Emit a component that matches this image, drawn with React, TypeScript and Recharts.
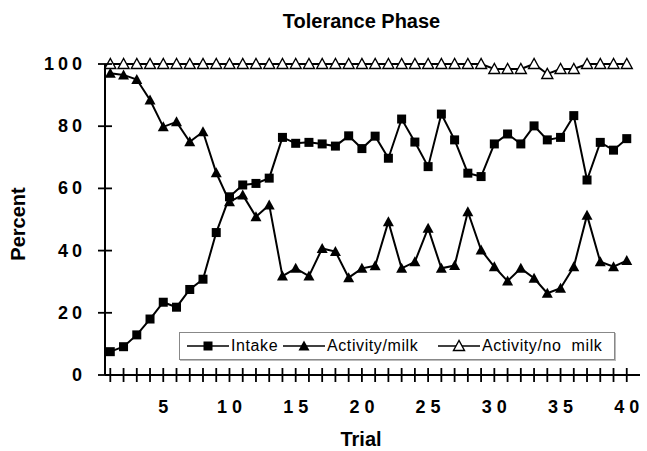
import { LineChart, Line, XAxis, YAxis, Label } from 'recharts';

const trials = [
  1, 2, 3, 4, 5, 6, 7, 8, 9, 10, 11, 12, 13, 14, 15, 16, 17, 18, 19, 20,
  21, 22, 23, 24, 25, 26, 27, 28, 29, 30, 31, 32, 33, 34, 35, 36, 37, 38, 39, 40,
];

const intake = [
  7.5, 9.1, 12.9, 18, 23.4, 21.8, 27.5, 30.8, 45.8, 57.3,
  61.1, 61.6, 63.3, 76.4, 74.5, 74.8, 74.3, 73.6, 76.9, 72.8,
  76.8, 69.7, 82.3, 74.9, 67, 83.9, 75.6, 64.9, 63.8, 74.3,
  77.5, 74.3, 80.1, 75.6, 76.4, 83.4, 62.7, 74.8, 72.3, 76,
];

const activityMilk = [
  97, 96.5, 95, 88.4, 79.8, 81.4, 75, 78.2, 65, 55.7,
  57.9, 50.9, 54.7, 31.8, 34.3, 31.8, 40.7, 39.7, 31.3, 34.3,
  35.1, 49.3, 34.3, 36.4, 47.2, 34.3, 35.2, 52.5, 40.2, 34.8,
  30.2, 34.3, 31.1, 26.3, 27.9, 34.8, 51.4, 36.4, 34.8, 36.8,
];

const activityNoMilk = [
  100, 100, 100, 100, 100, 100, 100, 100, 100, 100,
  100, 100, 100, 100, 100, 100, 100, 100, 100, 100,
  100, 100, 100, 100, 100, 100, 100, 100, 100, 98.4,
  98.4, 98.4, 100, 96.8, 98.4, 98.4, 100, 100, 100, 100,
];

const yTicks = [0, 20, 40, 60, 80, 100];

const data = trials.map((t, i) => ({
  trial: t,
  intake: intake[i],
  milk: activityMilk[i],
  noMilk: activityNoMilk[i],
}));

const FONT = '"Liberation Sans", Arial, Helvetica, sans-serif';
const W = 647;
const H = 451;
const PLOT_LEFT = 105;
const PLOT_BOTTOM = 375;

const squareDot = (p: any) => (
  <rect key={`sq-${p.index}`} x={p.cx - 4.5} y={p.cy - 4.5} width={9} height={9} fill="#000" />
);

const triPoints = (cx: number, cy: number) =>
  `${cx},${cy - 5.5} ${cx - 5.5},${cy + 4.5} ${cx + 5.5},${cy + 4.5}`;

const filledTri = (p: any) => (
  <polygon key={`ft-${p.index}`} points={triPoints(p.cx, p.cy)} fill="#000" />
);

const openTri = (p: any) => (
  <polygon
    key={`ot-${p.index}`}
    points={triPoints(p.cx, p.cy)}
    fill="#fff"
    stroke="#000"
    strokeWidth={1.4}
  />
);

const XTick = (props: any) => {
  const { x, payload } = props;
  const v = payload.value;
  return (
    <g>
      <line x1={x} x2={x} y1={PLOT_BOTTOM - 7} y2={PLOT_BOTTOM + 7} stroke="#000" strokeWidth={1.8} />
      {v % 5 === 0 && (
        <text
          x={x + 2.5}
          y={PLOT_BOTTOM + 38}
          textAnchor="middle"
          fontFamily={FONT}
          fontWeight="bold"
          fontSize={18}
          letterSpacing={5}
          fill="#000"
        >
          {v}
        </text>
      )}
    </g>
  );
};

const YTick = (props: any) => {
  const { y, payload } = props;
  return (
    <g>
      <line x1={PLOT_LEFT - 7} x2={PLOT_LEFT + 7} y1={y} y2={y} stroke="#000" strokeWidth={1.8} />
      <text
        x={86}
        y={y + 6}
        textAnchor="end"
        fontFamily={FONT}
        fontWeight="bold"
        fontSize={18}
        letterSpacing={4}
        fill="#000"
      >
        {payload.value}
      </text>
    </g>
  );
};

function LegendIcon({ kind }: { kind: 'square' | 'filled' | 'open' }) {
  return (
    <svg width={44} height={16} style={{ display: 'block' }}>
      <line x1={1} x2={43} y1={8} y2={8} stroke="#000" strokeWidth={1.6} />
      {kind === 'square' && <rect x={17.5} y={3.5} width={9} height={9} fill="#000" />}
      {kind === 'filled' && <polygon points={triPoints(22, 8)} fill="#000" />}
      {kind === 'open' && (
        <polygon points={triPoints(22, 8)} fill="#fff" stroke="#000" strokeWidth={1.4} />
      )}
    </svg>
  );
}

const legendItems: Array<{ label: string; kind: 'square' | 'filled' | 'open'; left: number }> = [
  { label: 'Intake', kind: 'square', left: 6 },
  { label: 'Activity/milk', kind: 'filled', left: 102 },
  { label: 'Activity/no\u00a0\u00a0milk', kind: 'open', left: 257 },
];

export default function App() {
  return (
    <div style={{ position: 'absolute', left: 0, top: 0, width: W, height: H, background: '#fff' }}>
      <div
        style={{
          position: 'absolute',
          left: 0,
          width: 723,
          top: 9,
          textAlign: 'center',
          fontFamily: FONT,
          fontWeight: 'bold',
          fontSize: 20,
          lineHeight: '24px',
        }}
      >
        Tolerance Phase
      </div>
      <LineChart
        width={W}
        height={H}
        data={data}
        margin={{ top: 64, right: 7, bottom: 36, left: 45 }}
      >
        <XAxis
          dataKey="trial"
          type="number"
          domain={[0.6, 40.6]}
          ticks={trials}
          interval={0}
          allowDecimals={false}
          height={40}
          axisLine={{ stroke: '#000', strokeWidth: 2 }}
          tickLine={false}
          tick={<XTick />}
        >
          <Label
            content={() => (
              <text
                x={361}
                y={446}
                textAnchor="middle"
                fontFamily={FONT}
                fontWeight="bold"
                fontSize={20}
                fill="#000"
              >
                Trial
              </text>
            )}
          />
        </XAxis>
        <YAxis
          type="number"
          domain={[0, 100]}
          ticks={yTicks}
          interval={0}
          width={60}
          axisLine={{ stroke: '#000', strokeWidth: 2 }}
          tickLine={false}
          tick={<YTick />}
        >
          <Label
            content={() => (
              <text
                x={25}
                y={224}
                transform="rotate(-90 25 224)"
                textAnchor="middle"
                fontFamily={FONT}
                fontWeight="bold"
                fontSize={20}
                fill="#000"
              >
                Percent
              </text>
            )}
          />
        </YAxis>
        <Line
          dataKey="intake"
          stroke="#000"
          strokeWidth={2}
          dot={squareDot}
          activeDot={false}
          isAnimationActive={false}
        />
        <Line
          dataKey="milk"
          stroke="#000"
          strokeWidth={2}
          dot={filledTri}
          activeDot={false}
          isAnimationActive={false}
        />
        <Line
          dataKey="noMilk"
          stroke="#000"
          strokeWidth={2}
          dot={openTri}
          activeDot={false}
          isAnimationActive={false}
        />
      </LineChart>
      <div
        style={{
          position: 'absolute',
          left: 179,
          top: 332,
          width: 436,
          height: 28,
          boxSizing: 'border-box',
          border: '1px solid #888',
          boxShadow: '1px 1px 0 #bbb',
          background: '#fff',
          fontFamily: FONT,
          fontSize: 16,
        }}
      >
        {legendItems.map((it) => (
          <div
            key={it.label}
            style={{
              position: 'absolute',
              left: it.left,
              top: 5,
              display: 'flex',
              alignItems: 'center',
              height: 16,
              whiteSpace: 'nowrap',
            }}
          >
            <LegendIcon kind={it.kind} />
            <span style={{ marginLeft: 1, letterSpacing: 0.6 }}>{it.label}</span>
          </div>
        ))}
      </div>
    </div>
  );
}
